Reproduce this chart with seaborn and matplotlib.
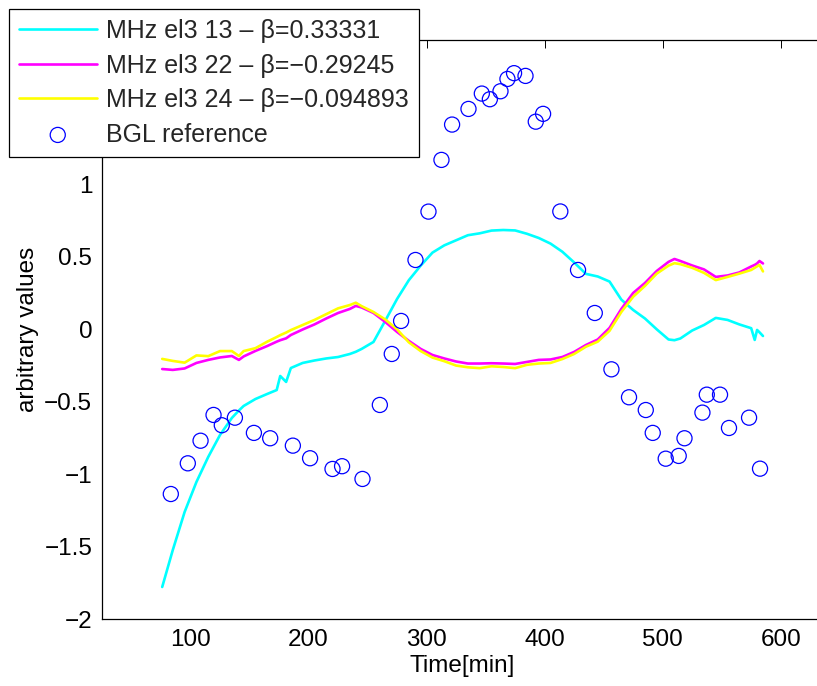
import matplotlib
matplotlib.use("Agg")
import matplotlib.pyplot as plt
import seaborn as sns
import pandas as pd

# Sampling times of the MHz signals [min]
time_min = [76, 85, 95, 105, 115, 125, 135, 141, 145, 155, 165, 173, 176, 181, 185,
            195, 205, 215, 225, 235, 240, 245, 255, 265, 275, 285, 295, 305, 315, 325,
            335, 345, 355, 365, 375, 385, 395, 405, 415, 425, 435, 445, 455, 465, 475,
            485, 495, 505, 510, 515, 525, 535, 545, 555, 565, 575, 578, 580, 582, 585]

el3_13 = [-1.779, -1.523, -1.261, -1.054, -0.881, -0.729, -0.612, -0.560, -0.529, -0.481,
          -0.446, -0.419, -0.322, -0.363, -0.267, -0.232, -0.215, -0.201, -0.191, -0.170,
          -0.155, -0.135, -0.087, 0.060, 0.210, 0.340, 0.440, 0.530, 0.580, 0.615,
          0.650, 0.663, 0.682, 0.686, 0.683, 0.660, 0.631, 0.592, 0.536, 0.462,
          0.383, 0.365, 0.330, 0.205, 0.134, 0.075, 0.000, -0.070, -0.075, -0.063,
          -0.008, 0.030, 0.079, 0.065, 0.034, 0.008, -0.073, -0.004, -0.020, -0.046]

el3_22 = [-0.274, -0.280, -0.270, -0.232, -0.211, -0.194, -0.184, -0.211, -0.187, -0.149,
          -0.115, -0.085, -0.075, -0.062, -0.039, -0.001, 0.034, 0.075, 0.113, 0.141,
          0.162, 0.151, 0.113, 0.051, -0.018, -0.080, -0.135, -0.177, -0.201, -0.222,
          -0.236, -0.236, -0.234, -0.236, -0.239, -0.225, -0.211, -0.208, -0.191, -0.156,
          -0.108, -0.070, 0.010, 0.141, 0.251, 0.320, 0.403, 0.466, 0.486, 0.472,
          0.441, 0.414, 0.362, 0.372, 0.393, 0.434, 0.445, 0.455, 0.472, 0.455]

el3_24 = [-0.204, -0.218, -0.230, -0.180, -0.185, -0.150, -0.150, -0.184, -0.150, -0.130,
          -0.085, -0.053, -0.040, -0.022, -0.005, 0.030, 0.065, 0.105, 0.145, 0.168,
          0.184, 0.160, 0.120, 0.068, 0.000, -0.090, -0.150, -0.195, -0.220, -0.250,
          -0.262, -0.268, -0.255, -0.260, -0.268, -0.245, -0.236, -0.232, -0.205, -0.170,
          -0.120, -0.085, -0.010, 0.120, 0.225, 0.300, 0.385, 0.440, 0.457, 0.450,
          0.425, 0.390, 0.340, 0.362, 0.385, 0.410, 0.425, 0.435, 0.445, 0.400]

# BGL reference samples
bgl_time = [83.3, 97.7, 108.5, 119.5, 126.5, 137.6, 153.7, 167.5, 186.7, 201.3,
            220.3, 228.4, 245.7, 260.4, 270.5, 278.4, 290.6, 301.6, 312.6, 321.6,
            335.5, 346.8, 353.6, 362.6, 368.5, 374.1, 383.8, 392.5, 398.7, 413.3,
            428.3, 442.5, 456.6, 471.5, 485.7, 491.6, 502.6, 513.6, 518.5, 533.7,
            537.4, 548.6, 556.2, 573.2, 582.5]
bgl_value = [-1.137, -0.925, -0.769, -0.591, -0.662, -0.610, -0.715, -0.752, -0.803, -0.890,
             -0.964, -0.945, -1.033, -0.522, -0.170, 0.058, 0.479, 0.813, 1.170, 1.414,
             1.522, 1.628, 1.589, 1.644, 1.729, 1.769, 1.750, 1.434, 1.488, 0.814,
             0.410, 0.113, -0.276, -0.469, -0.557, -0.715, -0.893, -0.874, -0.752, -0.575,
             -0.451, -0.451, -0.681, -0.610, -0.962]

series_labels = ["MHz el3 13 \u2013 \u03b2=0.33331",
                 "MHz el3 22 \u2013 \u03b2=\u22120.29245",
                 "MHz el3 24 \u2013 \u03b2=\u22120.094893"]
series_colors = ["#00FFFF", "#FF00FF", "#FFFF00"]
bgl_label = "BGL reference"

x_ticks = [100, 200, 300, 400, 500, 600]
y_ticks = [-2, -1.5, -1, -0.5, 0, 0.5, 1, 1.5, 2]
y_tick_labels = ["\u22122", "\u22121.5", "\u22121", "\u22120.5", "0", "0.5", "1", "1.5", "2"]

sns.set_theme(style="white")
plt.rcParams["font.family"] = ["Liberation Sans", "DejaVu Sans"]
plt.rcParams["axes.unicode_minus"] = True

fig = plt.figure(figsize=(8.17, 6.86), dpi=100)
W, H = 817, 686
ax = fig.add_axes([102 / W, 1 - 619 / H, (822 - 102) / W, (619 - 39.7) / H])

for values, label, color in zip([el3_13, el3_22, el3_24], series_labels, series_colors):
    df = pd.DataFrame({"t": time_min, "v": values})
    sns.lineplot(data=df, x="t", y="v", ax=ax, color=color, linewidth=1.9,
                 label=label, estimator=None, sort=False)

bgl = pd.DataFrame({"t": bgl_time, "v": bgl_value})
sns.scatterplot(data=bgl, x="t", y="v", ax=ax, marker="o", s=118,
                facecolor="none", edgecolor="#0000FF", linewidth=0.9,
                label=bgl_label, zorder=5)

ax.set_xlim(25, 635)
ax.set_ylim(-2, 2)
ax.set_xticks(x_ticks)
ax.set_yticks(y_ticks)
ax.set_yticklabels(y_tick_labels)
ax.tick_params(direction="in", length=6, width=0.7, color="black",
               top=True, right=False, labelsize=17.5, labelcolor="black", pad=7)
for sp in ax.spines.values():
    sp.set_color("black")
    sp.set_linewidth(0.9)
ax.spines["right"].set_visible(False)

ax.set_xlabel("Time[min]", fontsize=17.5, color="black", labelpad=3)
ax.set_ylabel("arbitrary values", fontsize=17.5, color="black", labelpad=4)

handles, labels = ax.get_legend_handles_labels()
ax.get_legend().remove()
leg = fig.legend(handles, labels, loc="upper left",
                 bbox_to_anchor=(9 / W, 1 - 9 / H), bbox_transform=fig.transFigure,
                 borderaxespad=0, fontsize=18, frameon=True, fancybox=False,
                 edgecolor="black", framealpha=1, handlelength=3.1,
                 handletextpad=0.4, labelspacing=0.42, borderpad=0.4)
leg.get_frame().set_linewidth(0.9)

fig.savefig("out.png", dpi=100)
